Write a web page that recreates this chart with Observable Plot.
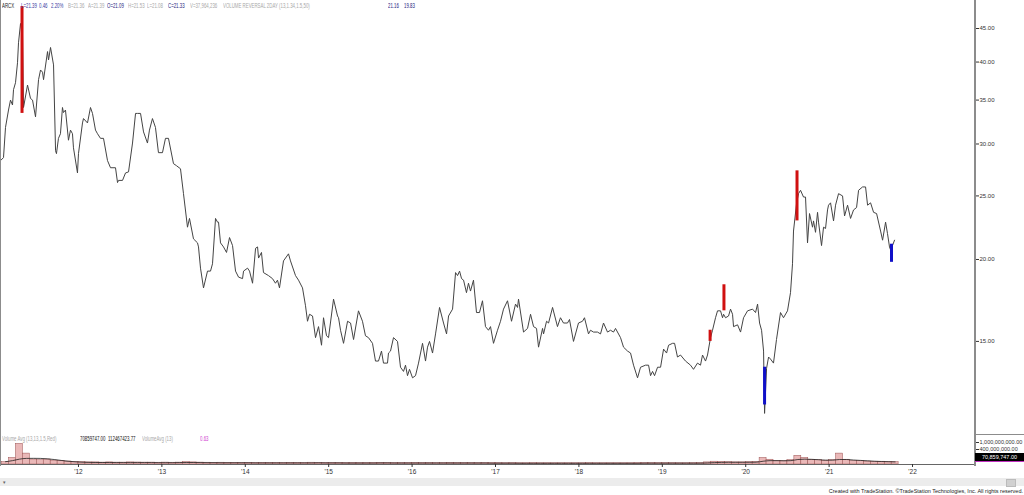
<!DOCTYPE html>
<html><head><meta charset="utf-8">
<script src="https://cdn.jsdelivr.net/npm/d3@7"></script>
<script src="https://cdn.jsdelivr.net/npm/@observablehq/plot@0.6"></script>
<style>
body{margin:0;background:#fff;}
#wrap{position:relative;width:1024px;height:495px;overflow:hidden;background:#fff;font-family:"Liberation Sans",Arial,sans-serif;}
#wrap svg{position:absolute;left:0;background:transparent;}
.tok{position:absolute;white-space:nowrap;font-size:6.6px;line-height:7px;transform:scaleX(0.66);transform-origin:0 0;}
</style></head><body><div id="wrap"></div>
<script>
// ---- price series (decimal year, last price) ----
const dates = [
2011.065,2011.101,2011.125,2011.161,2011.185,2011.209,2011.221,2011.245,2011.269,2011.281,2011.305,2011.329,2011.341,2011.389,2011.425,2011.449,2011.485,2011.521,2011.545,2011.569,2011.581,2011.629,2011.641,2011.665,2011.701,2011.725,2011.736,2011.760,2011.784,2011.808,2011.820,2011.844,2011.880,2011.904,2011.928,2011.940,2011.988,
2012.000,2012.048,2012.060,2012.108,2012.144,2012.168,2012.204,2012.228,2012.264,2012.300,2012.348,2012.384,2012.444,2012.468,2012.480,2012.528,2012.564,2012.600,2012.648,2012.684,2012.708,2012.744,2012.780,2012.827,2012.851,2012.887,2012.923,2012.959,
2013.007,2013.043,2013.079,2013.139,2013.175,2013.223,2013.259,2013.307,2013.331,2013.379,2013.427,2013.439,2013.463,2013.499,2013.547,2013.583,2013.607,2013.643,2013.667,2013.679,2013.703,2013.739,2013.775,2013.811,2013.847,2013.883,2013.919,2013.967,2013.979,
2014.027,2014.051,2014.087,2014.123,2014.147,2014.159,2014.194,2014.218,2014.278,2014.326,2014.362,2014.386,2014.410,2014.458,2014.518,2014.542,2014.602,2014.638,2014.686,2014.722,2014.746,2014.770,2014.806,2014.842,2014.878,2014.914,2014.938,2014.974,2014.998,
2015.058,2015.106,2015.118,2015.142,2015.178,2015.226,2015.262,2015.298,2015.357,2015.405,2015.441,2015.477,2015.525,2015.561,2015.597,2015.633,2015.657,2015.705,2015.717,2015.741,2015.777,2015.825,2015.861,2015.897,2015.921,2015.945,2015.969,
2016.005,2016.041,2016.077,2016.125,2016.161,2016.185,2016.209,2016.245,2016.281,2016.329,2016.377,2016.413,2016.437,2016.485,2016.521,2016.545,2016.569,2016.593,2016.617,2016.652,2016.676,2016.700,2016.736,2016.772,2016.808,2016.844,2016.880,2016.916,2016.940,2016.976,
2017.024,2017.060,2017.096,2017.144,2017.192,2017.240,2017.264,2017.276,2017.336,2017.384,2017.420,2017.456,2017.492,2017.516,2017.564,2017.576,2017.612,2017.636,2017.684,2017.743,2017.779,2017.815,2017.863,2017.887,2017.935,2017.995,
2018.043,2018.067,2018.115,2018.139,2018.175,2018.223,2018.259,2018.295,2018.343,2018.379,2018.415,2018.439,2018.499,2018.535,2018.583,2018.619,2018.655,2018.703,2018.739,2018.799,2018.835,2018.859,2018.883,2018.907,2018.943,2018.979,
2019.015,2019.051,2019.075,2019.123,2019.147,2019.182,2019.218,2019.278,2019.338,2019.374,2019.422,2019.458,2019.482,2019.518,2019.542,2019.578,2019.602,2019.638,2019.662,2019.698,2019.722,2019.734,2019.758,2019.794,2019.818,2019.842,2019.854,2019.902,2019.938,2019.974,
2020.022,2020.082,2020.118,2020.142,2020.166,2020.190,2020.214,2020.226,2020.250,2020.274,2020.297,2020.333,2020.369,2020.417,2020.453,2020.501,2020.537,2020.561,2020.573,2020.609,2020.633,2020.657,2020.693,2020.717,2020.741,2020.765,2020.801,2020.813,2020.837,2020.861,2020.873,2020.909,2020.933,2020.957,2020.981,2020.993,
2021.017,2021.053,2021.077,2021.113,2021.161,2021.185,2021.221,2021.257,2021.293,2021.329,2021.353,2021.401,2021.437,2021.461,2021.497,2021.533,2021.569,2021.617,2021.641,2021.677,2021.700,2021.724,2021.748,2021.760,2021.784];
const prices = [
28.3,28.6,31.8,33.8,35.0,34.4,36.3,37.2,39.9,42.8,45.8,43.9,34.1,36.9,35.2,35.0,33.0,37.6,38.9,38.6,37.6,41.5,40.3,42.1,39.6,29.3,29.0,30.6,31.1,34.1,33.5,33.8,30.4,31.5,31.1,29.6,27.1,
29.0,32.3,32.8,32.3,34.1,33.4,31.5,31.1,30.6,30.6,28.3,27.6,27.6,26.2,26.4,26.4,27.1,27.2,30.1,33.4,33.4,33.4,31.3,30.1,31.5,32.8,31.8,29.1,
29.1,30.6,30.6,28.0,27.8,27.5,25.2,22.4,23.1,21.5,21.2,20.9,19.4,18.1,19.2,19.2,19.7,23.1,22.8,22.8,21.2,20.9,20.5,21.6,21.0,19.2,18.8,18.7,19.2,
19.4,19.2,18.4,20.8,20.9,20.1,20.5,19.1,18.9,18.7,18.4,18.6,18.1,19.9,20.4,19.9,18.9,18.6,18.1,17.0,16.1,16.5,16.4,15.2,15.8,14.8,16.3,15.3,15.2,
17.4,16.4,16.3,15.6,14.9,16.1,16.0,15.1,16.7,16.1,15.3,15.2,14.9,14.0,14.0,14.5,13.9,13.9,14.4,14.5,15.2,15.0,13.7,13.5,13.8,13.3,13.6,
13.2,13.3,13.9,14.9,14.0,14.7,15.0,14.4,15.4,16.9,16.0,15.4,16.4,16.8,19.1,18.9,19.2,18.7,18.6,17.8,18.4,17.9,18.6,16.6,16.6,17.3,15.8,15.6,15.8,14.9,
15.6,16.1,16.8,17.3,16.1,17.1,16.9,17.4,15.5,15.7,16.5,15.8,15.7,14.7,15.7,15.4,16.1,16.0,16.9,15.8,16.3,16.0,16.0,16.2,15.0,16.0,
16.1,16.3,15.4,15.6,15.5,15.5,15.4,16.0,15.5,15.6,15.5,15.7,15.2,14.7,14.5,14.4,13.8,13.2,13.7,13.8,13.8,13.3,13.5,13.3,13.7,13.7,
14.6,14.4,14.8,14.9,14.9,14.2,14.3,14.0,13.8,13.6,13.9,13.8,14.3,14.0,14.3,15.2,15.6,16.3,16.7,16.7,16.3,16.5,16.3,16.4,16.8,16.5,15.8,15.9,15.5,16.3,
16.7,16.8,16.6,17.1,16.0,15.6,14.5,11.65,13.65,14.2,14.1,13.9,15.1,16.6,16.3,16.7,17.8,19.7,22.1,24.3,25.2,25.5,24.9,24.9,21.2,23.5,22.4,22.9,22.0,23.6,22.8,21.0,22.4,22.3,23.8,24.2,
24.4,22.9,24.2,25.2,25.0,23.3,24.2,23.1,23.8,24.0,25.5,25.8,25.8,24.2,24.4,23.6,23.5,22.1,21.4,22.8,21.9,20.9,20.5,21.0,21.4];

// ---- volume reversal signal bars ----
const signalDates = [2011.323, 2019.573, 2019.739, 2020.226, 2020.615, 2021.748];
const signalHigh  = [48.6, 15.6, 18.3, 13.7, 27.3, 21.1];
const signalLow   = [33.4, 15.0, 16.7, 12.0, 22.9, 19.8];
const signalSide  = ["sell","sell","sell","buy","sell","buy"];

// ---- monthly volume (millions), Feb 2011 .. Oct 2021 ----
const volumeStart = 2011 + 1/12;
const volumes = [
76,132,832,234,108,99,108,93,91,83,79,
76,74,74,72,74,72,72,74,73,72,72,71,
72,71,72,76,74,72,71,70,71,70,70,69,
70,69,70,69,69,68,70,69,68,71,70,69,
69,68,68,68,67,68,69,70,69,68,68,68,
69,68,68,67,68,70,68,68,68,67,68,67,
67,66,67,66,66,67,66,66,66,66,66,66,
66,67,66,66,66,66,66,66,67,68,68,67,
67,67,66,66,67,68,74,81,79,76,74,74,
76,79,132,105,88,86,99,175,132,105,99,93,
99,234,105,88,86,83,81,81,79,76];
const volumeAvg = [
81,93,113,125,126,125,118,108,96,86,80,
76,74,73,73,73,72,72,72,72,72,72,71,
71,71,72,73,73,72,71,71,70,70,70,70,
70,69,69,69,69,69,69,69,69,69,70,69,
69,69,68,68,68,68,68,69,69,68,68,68,
68,68,68,68,68,68,68,68,68,68,68,67,
67,67,67,66,66,66,66,66,66,66,66,66,
66,66,66,66,66,66,66,66,66,67,67,67,
67,67,67,67,67,67,69,72,74,75,75,75,
75,76,86,93,93,91,93,108,113,110,105,99,
99,108,108,101,96,91,86,83,81,79];
const volumeFloor = 56.2e6;
const volumeCeil = 2.5e9;

// ---- ticks ----
const yearTicks = [2012,2013,2014,2015,2016,2017,2018,2019,2020,2021,2022];
const priceTicks = [15,20,25,30,35,40,45];
const volumeTicks = [400e6, 1e9];
const lastVolumeLabel = "70,859,747.00";

// ---- header texts ----
const headerTexts = ["ARCX","L=21.39","0.46","2.20%","B=21.36","A=21.39","O=21.09","H=21.53","L=21.08","C=21.33","V=37,964,236","VOLUME REVERSAL 2DAY (13,1.34,1.5,50)","21.16","19.83"];
const headerColors = ["#222","#3a3aa0","#3a3aa0","#3a3aa0","#a8a8a8","#a8a8a8","#1e1e80","#a8a8a8","#a8a8a8","#1e1e80","#a8a8a8","#a8a8a8","#1e1e80","#1e1e80"];
const volHeaderTexts = ["Volume Avg (13,13,1.5,Red)","70859747.00","112467423.77","VolumeAvg (13)","0.63"];
const volHeaderColors = ["#a8a8a8","#111","#111","#a8a8a8","#d040d0"];
const creditText = "Created with TradeStation. \u00A9TradeStation Technologies, Inc. All rights reserved.";

// layout
const headerX = [2,21,39,51,68,88,107,128,147,168,190,223,388,404];
const volHeaderX = [2,80,108,142,200];
const xDomain = [2011.065, 2022.755];

const wrap = document.getElementById("wrap");
const priceData = dates.map((t,i)=>({t, p: prices[i]}));
const signals = signalDates.map((t,i)=>({t, hi: signalHigh[i], lo: signalLow[i], side: signalSide[i]}));
const font = "Liberation Sans, Arial, sans-serif";

const pricePlot = Plot.plot({
  width: 1024, height: 435, marginLeft: 0, marginRight: 49, marginTop: 0, marginBottom: 0,
  x: {type: "linear", domain: xDomain, axis: null},
  y: {type: "log", domain: [10.78, 49.65], axis: null},
  style: {fontFamily: font, color: "#333", background: "transparent"},
  marks: [
    Plot.line(priceData, {x: "t", y: "p", stroke: "#444", strokeWidth: 1}),
    Plot.ruleX(signals.filter(d=>d.side==="sell"), {x: "t", y1: "lo", y2: "hi", stroke: "#d01010", strokeWidth: 3}),
    Plot.ruleX(signals.filter(d=>d.side==="buy"), {x: "t", y1: "lo", y2: "hi", stroke: "#1010c8", strokeWidth: 3}),
    Plot.axisY({anchor: "right", ticks: priceTicks, tickFormat: d => d.toFixed(2), tickSize: 3, tickPadding: 1, fontSize: 6})
  ]
});
pricePlot.style.top = "0px";
wrap.appendChild(pricePlot);

const volData = volumes.map((v,i)=>({t0: volumeStart + i/12, t1: volumeStart + (i+1)/12, tm: volumeStart + (i+0.5)/12, lo: volumeFloor, v: v*1e6, a: volumeAvg[i]*1e6}));
const volPlot = Plot.plot({
  width: 1024, height: 47, marginLeft: 0, marginRight: 49, marginTop: 0, marginBottom: 18,
  x: {type: "linear", domain: xDomain, axis: null},
  y: {type: "log", domain: [volumeFloor, volumeCeil], axis: null},
  style: {fontFamily: font, color: "#333", background: "transparent"},
  marks: [
    Plot.rect(volData, {x1: "t0", x2: "t1", y1: "lo", y2: "v", fill: "#eab8b8", stroke: "#9a5050", strokeWidth: 0.5}),
    Plot.line(volData, {x: "tm", y: "a", stroke: "#222", strokeWidth: 0.8, curve: "monotone-x"}),
    Plot.ruleY([volumeFloor], {stroke: "#666", strokeWidth: 1}),
    Plot.axisX({ticks: yearTicks, tickFormat: d => "'" + String(d).slice(2), tickSize: 3, tickPadding: 2, fontSize: 6.5}),
    Plot.axisY({anchor: "right", ticks: volumeTicks, tickFormat: d => d3.format(",.2f")(d), tickSize: 3, tickPadding: 1, fontSize: 5.5})
  ]
});
volPlot.style.top = "435px";
wrap.appendChild(volPlot);

function addDiv(css, text){ const d=document.createElement("div"); d.style.cssText=css; if(text!=null) d.textContent=text; wrap.appendChild(d); return d; }
// frame lines
addDiv("position:absolute;left:0;top:0;width:1px;height:466px;background:#8c8c8c;");
addDiv("position:absolute;left:974px;top:0;width:2px;height:466px;background:#8c8c8c;");
addDiv("position:absolute;left:975px;top:434px;width:49px;height:1px;background:#8c8c8c;");
// header
headerTexts.forEach((s,i)=>{ const d=addDiv("", s); d.className="tok"; d.style.left=headerX[i]+"px"; d.style.top="2px"; d.style.color=headerColors[i]; });
volHeaderTexts.forEach((s,i)=>{ const d=addDiv("", s); d.className="tok"; d.style.left=volHeaderX[i]+"px"; d.style.top="435px"; d.style.color=volHeaderColors[i]; });
// last volume box
addDiv("position:absolute;left:975px;top:453px;width:49px;height:8px;background:#000;color:#fff;font-size:5.5px;line-height:8px;text-align:center;border-bottom:1px solid #c030c0;font-family:"+font, lastVolumeLabel);
// bottom band
addDiv("position:absolute;left:0;top:478px;width:1024px;height:8px;background:#ececec;");
addDiv("position:absolute;left:3px;top:479px;font-size:5px;color:#666;", "\u25BE");
addDiv("position:absolute;left:1006px;top:479px;width:8px;height:6px;background:#d0d0d0;border:1px solid #bbb;");
addDiv("position:absolute;right:1px;top:488px;font-size:5.5px;line-height:6px;color:#222;white-space:nowrap;font-family:"+font, creditText);
if (dates.length !== prices.length) console.warn("length mismatch", dates.length, prices.length);
</script></body></html>
